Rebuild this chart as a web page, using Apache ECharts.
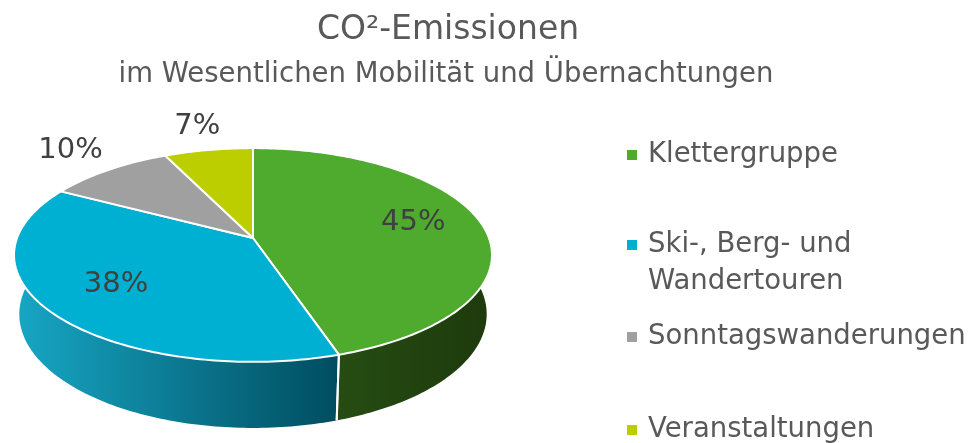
<!DOCTYPE html>
<html>
<head>
<meta charset="utf-8">
<script src="https://cdn.jsdelivr.net/npm/echarts@6/dist/echarts.min.js"></script>
<style>
  html, body { margin: 0; padding: 0; background: #fff; }
  #chart { width: 972px; height: 443px; }
</style>
</head>
<body>
<div id="chart"></div>
<script>
// data
var categories = ['Klettergruppe', 'Ski-, Berg- und Wandertouren', 'Sonntagswanderungen', 'Veranstaltungen'];
// blank first line on the two-line entry keeps the marker level with "Ski-, Berg- und"
var legendLabels = ['Klettergruppe', ' \nSki-, Berg- und\nWandertouren', 'Sonntagswanderungen', 'Veranstaltungen'];
var shares = [45, 38, 10, 7];

// colours
var topColors = ['#4eab2e', '#00b0d2', '#a0a0a0', '#bccd00'];
var wallLight = ['#264c13', '#17a7c5', '#7a7a7a', '#8a9600'];
var wallDark = ['#1d3a0c', '#004c5f', '#555555', '#606800'];

var FONT = '"DejaVu Sans", sans-serif';
var TEXT = '#595959';

// fake 3d: tilted disc seen with a little perspective
var CX = 253, CY = 238;
var R = 0.177, K = 1333, THICK = 0.05;
var PHI = 26.2 * Math.PI / 180;
var cosP = Math.cos(PHI), sinP = Math.sin(PHI);

function proj(deg, r, y) {
  var a = deg * Math.PI / 180;
  var X = R * r * Math.sin(a), Z = R * r * Math.cos(a);
  var yc = y * cosP + Z * sinP;
  var depth = 1 + Z * cosP - y * sinP;
  return [CX + K * X / depth, CY - K * yc / depth];
}

var total = shares.reduce(function (s, v) { return s + v; }, 0);
var starts = [];
var acc = 0;
shares.forEach(function (v) { starts.push(acc); acc += v; });

function makeRender(i) {
  return function (params, api) {
    var a0 = api.value(0) / total * 360;
    var a1 = api.value(1) / total * 360;
    var steps = Math.max(2, Math.ceil(a1 - a0));
    var topPts = [proj(0, 0, 0)];
    var rim = [], base = [];
    for (var k = 0; k <= steps; k++) {
      var a = a0 + (a1 - a0) * k / steps;
      rim.push(proj(a, 1, 0));
      base.push(proj(a, 1, -THICK));
    }
    topPts = topPts.concat(rim);
    var wallPts = rim.concat(base.slice().reverse());

    // gradient over the visible front part of the wall
    var xs = [];
    for (var j = 0; j < rim.length; j++) {
      var aj = a0 + (a1 - a0) * j / steps;
      if (Math.cos(aj * Math.PI / 180) < 0) xs.push(rim[j][0]);
    }
    var xmin = xs.length ? Math.min.apply(null, xs) : CX;
    var xmax = xs.length ? Math.max.apply(null, xs) : CX + 1;
    if (xmax - xmin < 1) xmax = xmin + 1;
    var fill = new echarts.graphic.LinearGradient(xmin, 0, xmax, 0, [
      { offset: 0, color: wallLight[i] },
      { offset: 1, color: wallDark[i] }
    ], true);

    var children = [{
      type: 'polygon',
      shape: { points: wallPts },
      style: { fill: fill },
      z2: 0
    }];

    // white seam on the side where slices meet
    [a0, a1].forEach(function (a) {
      if (Math.cos(a * Math.PI / 180) < -0.2) {
        var p = proj(a, 1, 0), q = proj(a, 1, -THICK);
        children.push({
          type: 'line',
          shape: { x1: p[0], y1: p[1], x2: q[0], y2: q[1] },
          style: { stroke: '#ffffff', lineWidth: 2 },
          z2: 1
        });
      }
    });

    children.push({
      type: 'polygon',
      shape: { points: topPts },
      style: { fill: topColors[i], stroke: '#ffffff', lineWidth: 2, lineJoin: 'round' },
      z2: 10
    });

    var mid = (a0 + a1) / 2;
    var inside = api.value(2) >= 20;
    var lp = proj(mid, inside ? 0.7 : 1.3, 0);
    children.push({
      type: 'text',
      x: lp[0], y: lp[1] - (inside ? 4 : 2),
      style: {
        text: api.value(2) + '%',
        fill: '#404040',
        font: '29px ' + FONT,
        textAlign: 'center',
        textVerticalAlign: 'middle'
      },
      z2: 20
    });

    return { type: 'group', children: children };
  };
}

var legendTops = [136.5, 189.5, 318.5, 411.5];

var chart = echarts.init(document.getElementById('chart'));
chart.setOption({
  animation: false,
  graphic: [
    {
      type: 'text', x: 448, y: 30,
      style: { text: 'CO²-Emissionen', font: '33px ' + FONT, fill: TEXT, textAlign: 'center', textVerticalAlign: 'middle' }
    },
    {
      type: 'text', x: 446, y: 75,
      style: { text: 'im Wesentlichen Mobilität und Übernachtungen', font: '27.5px ' + FONT, fill: TEXT, textAlign: 'center', textVerticalAlign: 'middle' }
    }
  ],
  legend: categories.map(function (name, i) {
    return {
      data: [{ name: name, itemStyle: { color: topColors[i] } }],
      left: 627,
      top: legendTops[i],
      orient: 'vertical',
      padding: 0,
      icon: 'rect',
      itemWidth: 10,
      itemHeight: 10,
      selectedMode: false,
      formatter: function () { return legendLabels[i]; },
      textStyle: {
        fontFamily: FONT,
        fontSize: 27.5,
        color: TEXT,
        lineHeight: 37,
        padding: [0, 0, 0, 6]
      }
    };
  }),
  series: categories.map(function (name, i) {
    return {
      type: 'custom',
      name: name,
      coordinateSystem: 'none',
      silent: true,
      itemStyle: { color: topColors[i] },
      renderItem: makeRender(i),
      data: [[starts[i], starts[i] + shares[i], shares[i]]]
    };
  })
});
</script>
</body>
</html>
